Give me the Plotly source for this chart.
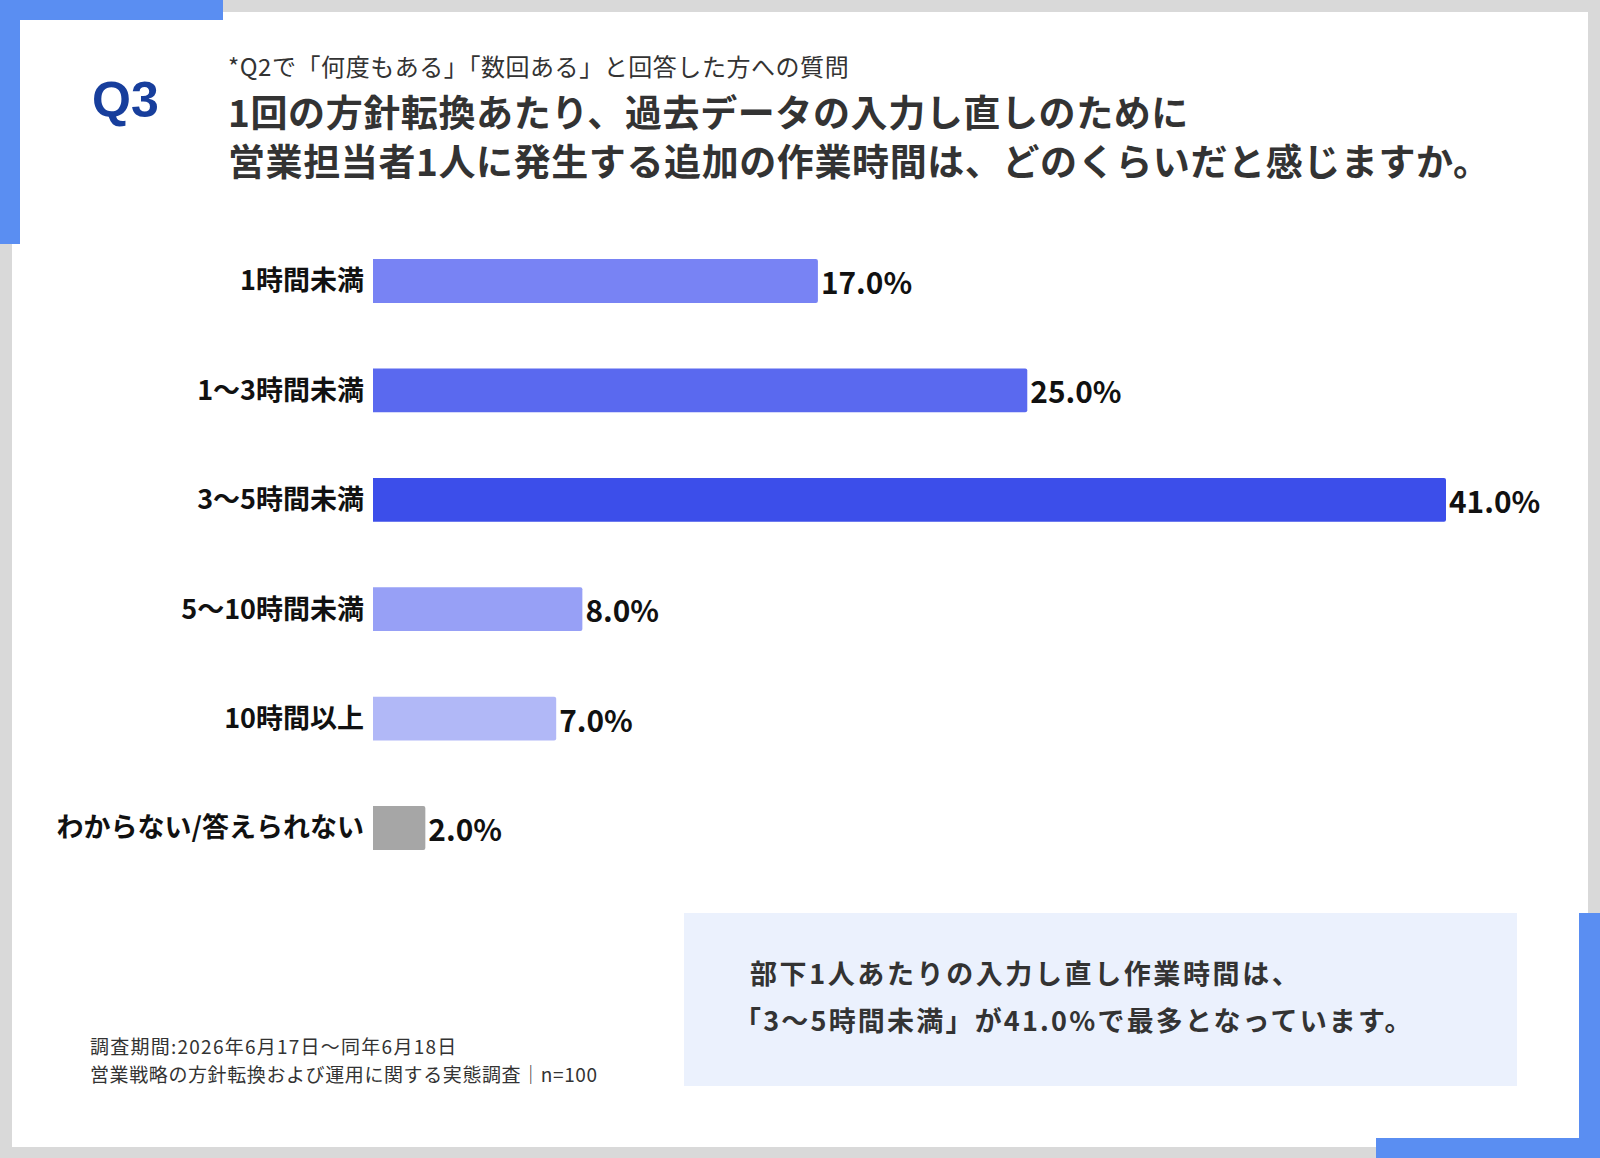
import plotly.graph_objects as go

W, H = 1600, 1158

categories = ["1時間未満", "1～3時間未満", "3～5時間未満", "5～10時間未満", "10時間以上", "わからない/答えられない"]
values = [17.0, 25.0, 41.0, 8.0, 7.0, 2.0]
bar_colors = ["#7883f4", "#5a69ef", "#3c4eea", "#97a0f6", "#b1b8f7", "#a6a6a6"]
value_labels = [f"{v:.1f}%" for v in values]

subtitle = "*Q2で「何度もある」「数回ある」と回答した方への質問"
title_lines = ["1回の方針転換あたり、過去データの入力し直しのために",
               "営業担当者1人に発生する追加の作業時間は、どのくらいだと感じますか。"]
callout_lines = ["部下1人あたりの入力し直し作業時間は、",
                 "「3～5時間未満」が41.0%で最多となっています。"]
footer_lines = ["調査期間:2026年6月17日～同年6月18日",
                "営業戦略の方針転換および運用に関する実態調査│n=100"]

JP = "Noto Sans CJK JP"
BLUE = "#5a8ef2"
GREY = "#d9d9d9"


def px(x):
    return x / W


def py(y):
    return 1 - y / H


def rect(x0, y0, x1, y1, color):
    return dict(type="rect", xref="paper", yref="paper",
                x0=px(x0), x1=px(x1), y0=py(y1), y1=py(y0),
                fillcolor=color, line=dict(width=0), layer="below")


def spaced(s, ls):
    return f'<span style="letter-spacing:{ls}px">{s}</span>'


fig = go.Figure()
fig.add_trace(go.Bar(
    x=values, y=categories, orientation="h",
    marker=dict(color=bar_colors, line=dict(width=0), cornerradius=2),
    width=0.4,
    text=value_labels, textposition="outside", cliponaxis=False,
    textfont=dict(family=JP, size=30, color="#111111", weight="bold"),
    hoverinfo="skip",
))

x0_px, x41_px = 373, 1446
ppu = (x41_px - x0_px) / 41.0
xmax = (W - x0_px) / ppu

top_px, bot_px = 281 - 54.7, 828 + 54.7

shapes = [
    rect(0, 0, W, H, GREY),
    rect(12, 12, 1588, 1147, "#ffffff"),
    rect(0, 0, 223, 20, BLUE),
    rect(0, 0, 20, 244, BLUE),
    rect(1376, 1138, W, H, BLUE),
    rect(1579, 913, W, H, BLUE),
    rect(684, 913, 1517, 1086, "#ebf1fd"),
]

annotations = [
    dict(text="Q3", x=px(125), y=py(100), xanchor="center", yanchor="middle",
         font=dict(family="Liberation Sans", size=50, color="#173e9c", weight="bold")),
    dict(text=spaced(subtitle, 0.55), x=px(226), y=py(66), xanchor="left", yanchor="middle",
         font=dict(family=JP, size=24, color="#333333")),
    dict(text=spaced(title_lines[0], 0.6), x=px(226), y=py(111), xanchor="left", yanchor="middle",
         font=dict(family=JP, size=37, color="#333333", weight="bold")),
    dict(text=spaced(title_lines[1], 0.6), x=px(226), y=py(160), xanchor="left", yanchor="middle",
         font=dict(family=JP, size=37, color="#333333", weight="bold")),
    dict(text=spaced(callout_lines[0], 2.6), x=px(748), y=py(972), xanchor="left", yanchor="middle",
         font=dict(family=JP, size=27, color="#333333", weight="bold")),
    dict(text=spaced(callout_lines[1], 2.2), x=px(732), y=py(1019), xanchor="left", yanchor="middle",
         font=dict(family=JP, size=27, color="#333333", weight="bold")),
    dict(text=spaced(footer_lines[0], 1.25), x=px(88), y=py(1045.5), xanchor="left", yanchor="middle",
         font=dict(family=JP, size=19, color="#333333")),
    dict(text=spaced(footer_lines[1], 0.6), x=px(88), y=py(1073.5), xanchor="left", yanchor="middle",
         font=dict(family=JP, size=19, color="#333333")),
]
for a in annotations:
    a.update(xref="paper", yref="paper", showarrow=False)

fig.update_layout(
    width=W, height=H,
    margin=dict(l=0, r=0, t=0, b=0),
    paper_bgcolor="#ffffff", plot_bgcolor="rgba(0,0,0,0)",
    showlegend=False,
    shapes=shapes, annotations=annotations,
    xaxis=dict(domain=[px(x0_px), 1], range=[0, xmax], visible=False, fixedrange=True),
    yaxis=dict(domain=[py(bot_px), py(top_px)], range=[5.5, -0.5],
               showgrid=False, zeroline=False, showline=False, ticks="",
               ticklabelstandoff=8, fixedrange=True,
               tickfont=dict(family=JP, size=27, color="#111111", weight="bold")),
)

fig.write_html("out.html",
               config={"displayModeBar": False, "staticPlot": True},
               post_script="document.body.style.margin='0';document.body.style.overflow='hidden';")
